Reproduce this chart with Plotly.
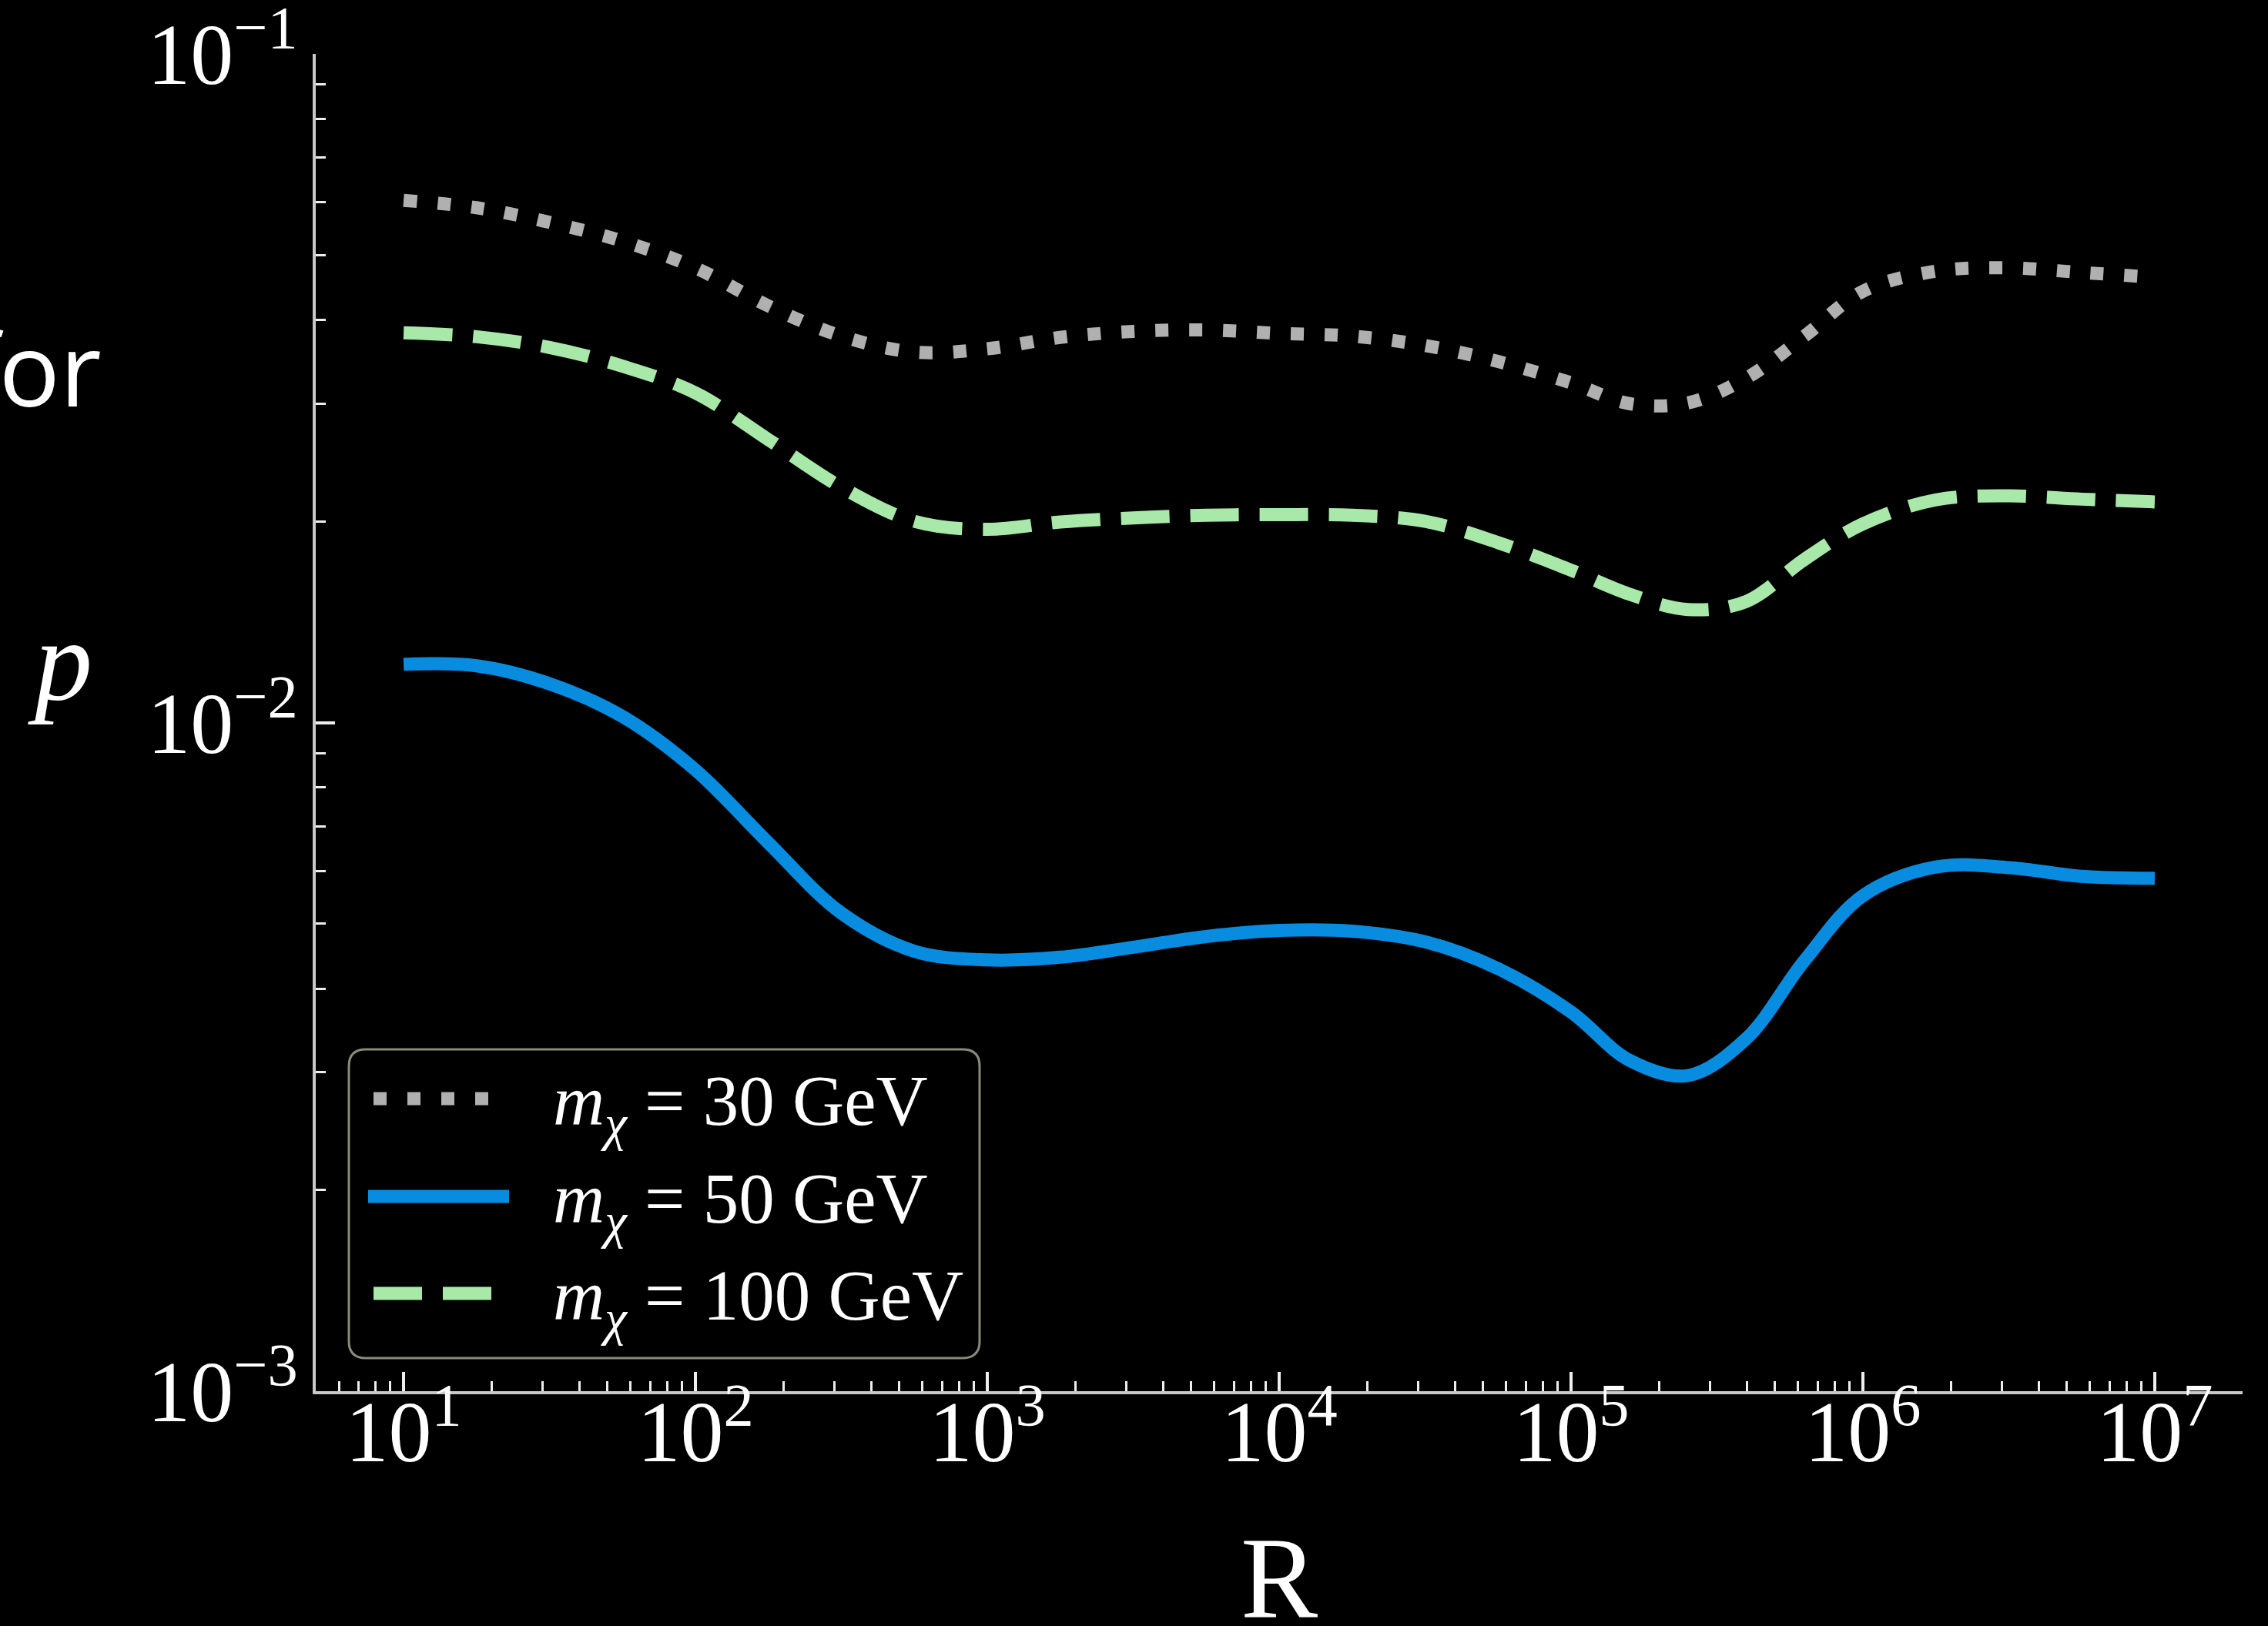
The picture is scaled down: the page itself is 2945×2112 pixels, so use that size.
import plotly.graph_objects as go

# R grid (log-spaced) and the three p(R) curves, one per dark-matter mass
R = [10, 17.78, 31.62, 56.23, 100, 177.8, 316.2, 562.3, 1000, 1778, 3162, 5623,
     1.0e4, 1.778e4, 3.162e4, 5.623e4, 1.0e5, 1.585e5, 2.512e5, 3.981e5, 6.310e5,
     1.0e6, 1.778e6, 3.162e6, 5.623e6, 1.0e7]

p_30GeV = [0.06039, 0.05888, 0.05598, 0.05248, 0.04786, 0.04198, 0.03784, 0.03581,
           0.03622, 0.03767, 0.03846, 0.03864, 0.03819, 0.03784, 0.03664, 0.03467,
           0.03221, 0.02999, 0.03006, 0.03273, 0.03784, 0.04416, 0.04732, 0.04786,
           0.04710, 0.04634]

p_50GeV = [0.01222, 0.01216, 0.01143, 0.01021, 0.008492, 0.006607, 0.005188, 0.004550,
           0.004416, 0.004457, 0.004613, 0.004786, 0.004887, 0.004875, 0.004699, 0.004285,
           0.003690, 0.003126, 0.002965, 0.003365, 0.004406, 0.005508, 0.006081, 0.006067,
           0.005888, 0.005848]

p_100GeV = [0.03828, 0.03776, 0.03639, 0.03412, 0.03112, 0.02649, 0.02249, 0.02000,
            0.01945, 0.01995, 0.02023, 0.02042, 0.02046, 0.02042, 0.02000, 0.01858,
            0.01690, 0.01556, 0.01476, 0.01517, 0.01754, 0.01982, 0.02153, 0.02183,
            0.02158, 0.02138]

series_labels = [
    "<i>m</i><sub><i>χ</i></sub> = 30 GeV",
    "<i>m</i><sub><i>χ</i></sub> = 50 GeV",
    "<i>m</i><sub><i>χ</i></sub> = 100 GeV",
]

x_tickvals = [1e1, 1e2, 1e3, 1e4, 1e5, 1e6, 1e7]
x_ticktext = ["10<sup>1</sup>", "10<sup>2</sup>", "10<sup>3</sup>", "10<sup>4</sup>",
              "10<sup>5</sup>", "10<sup>6</sup>", "10<sup>7</sup>"]
y_tickvals = [1e-3, 1e-2, 1e-1]
y_ticktext = ["10<sup>−3</sup>", "10<sup>−2</sup>", "10<sup>−1</sup>"]

# ---- styling -------------------------------------------------------------
W, H = 2945, 2112
L, Rm, T, B = 410, 33, 70, 305
PW, PH = W - L - Rm, H - T - B

GRAY = "rgb(176,176,176)"
BLUE = "rgb(8,140,224)"
GREEN = "rgb(168,233,170)"
AXIS = "rgb(200,200,200)"
TICK = "rgb(238,238,238)"
SERIF = "Liberation Serif"

styles = [
    dict(color=GRAY, width=17, dash="17px,27px"),
    dict(color=BLUE, width=17, dash="solid"),
    dict(color=GREEN, width=17, dash="63px,27px"),
]
curves = [p_30GeV, p_50GeV, p_100GeV]


def px_x(x):
    return (x - L) / PW


def px_y(y):
    return (H - B - y) / PH


fig = go.Figure()
for vals, st, lab in zip(curves, styles, series_labels):
    fig.add_trace(go.Scatter(
        x=R, y=vals, mode="lines", name=lab, showlegend=False,
        line=dict(color=st["color"], width=st["width"], dash=st["dash"],
                  shape="spline", smoothing=1.0),
        hoverinfo="skip",
    ))

axis_common = dict(
    type="log", showgrid=False, zeroline=False, automargin=False,
    showline=True, linecolor=AXIS, linewidth=4, mirror=False,
    ticks="inside", ticklen=25, tickwidth=4, tickcolor=TICK,
    tickmode="array", ticklabeloverflow="allow",
    tickfont=dict(family=SERIF, size=112, color="white"),
    minor=dict(ticks="inside", ticklen=13, tickwidth=3, tickcolor=TICK,
               dtick="D1", showgrid=False),
)

fig.update_xaxes(range=[0.69897, 7.30103], tickvals=x_tickvals, ticktext=x_ticktext,
                 ticklabelstandoff=-47, **axis_common)
fig.update_yaxes(range=[-3, -1], tickvals=y_tickvals, ticktext=y_ticktext,
                 ticklabelstandoff=-3, **axis_common)

# ---- legend box (rounded) with line samples and labels --------------------
bx0, bx1, by0, by1 = 453, 1272, 1363, 1764
r = 22
x0, x1 = px_x(bx0), px_x(bx1)
y0, y1 = px_y(by1), px_y(by0)
rx, ry = r / PW, r / PH
path = (f"M{x0 + rx},{y1} L{x1 - rx},{y1} Q{x1},{y1} {x1},{y1 - ry} "
        f"L{x1},{y0 + ry} Q{x1},{y0} {x1 - rx},{y0} "
        f"L{x0 + rx},{y0} Q{x0},{y0} {x0},{y0 + ry} "
        f"L{x0},{y1 - ry} Q{x0},{y1} {x0 + rx},{y1} Z")
fig.add_shape(type="path", path=path, xref="paper", yref="paper",
              line=dict(color="rgb(138,138,122)", width=3),
              fillcolor="rgba(0,0,0,1)", layer="above")

rows_y = [1427, 1554, 1680]
sample_x = [(485, 635), (478, 661), (485, 638)]
for (sx0, sx1), ry_px, st, lab in zip(sample_x, rows_y, styles, series_labels):
    fig.add_shape(type="line", xref="paper", yref="paper",
                  x0=px_x(sx0), x1=px_x(sx1), y0=px_y(ry_px), y1=px_y(ry_px),
                  line=dict(color=st["color"], width=st["width"], dash=st["dash"]),
                  layer="above")
    fig.add_annotation(text=lab, xref="paper", yref="paper",
                       x=px_x(716), y=px_y(ry_px + 9), xanchor="left", yanchor="middle",
                       showarrow=False,
                       font=dict(family=SERIF, size=93, color="white"))

# ---- axis titles -----------------------------------------------------------
fig.add_annotation(text="R", xref="paper", yref="paper", x=0.5, y=px_y(2049),
                   xanchor="center", yanchor="middle", showarrow=False,
                   font=dict(family=SERIF, size=150, color="white"))
fig.add_annotation(text="<i>p</i>", xref="paper", yref="paper", x=px_x(78), y=px_y(858),
                   xanchor="center", yanchor="middle", showarrow=False,
                   font=dict(family=SERIF, size=150, color="white"))
fig.add_annotation(text="for", xref="paper", yref="paper", x=px_x(134), y=px_y(477),
                   xanchor="right", yanchor="middle", showarrow=False,
                   font=dict(family="Open Sans", size=132, color="white"))

fig.update_layout(
    width=W, height=H,
    margin=dict(l=L, r=Rm, t=T, b=B, pad=0, autoexpand=False),
    paper_bgcolor="black", plot_bgcolor="black",
    showlegend=False,
)

fig.write_html("out.html")
